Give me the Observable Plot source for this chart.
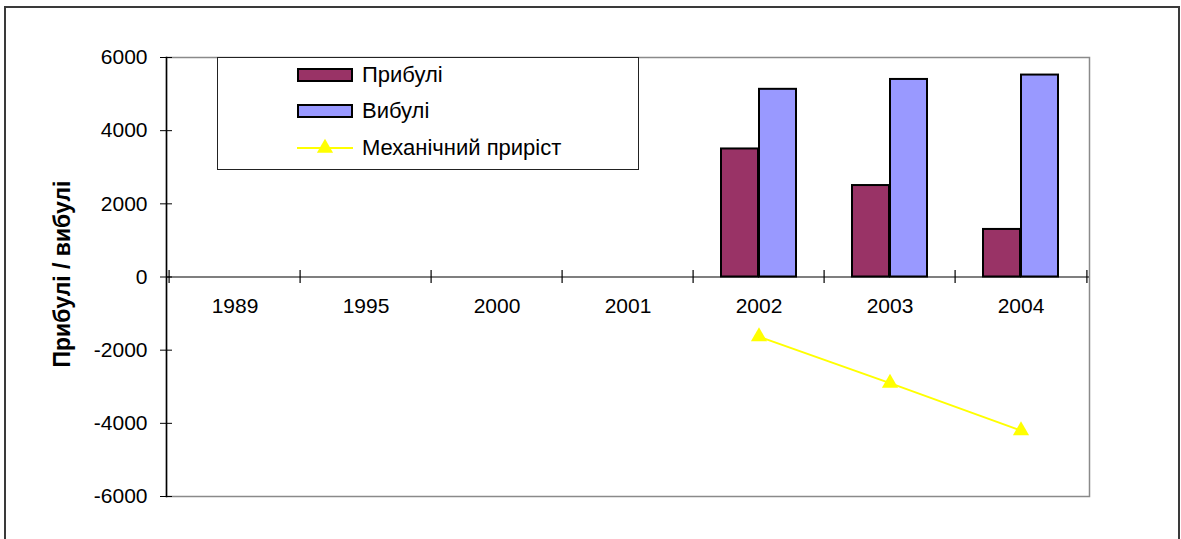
<!DOCTYPE html>
<html>
<head>
<meta charset="utf-8">
<script src="https://cdn.jsdelivr.net/npm/d3@7"></script>
<script src="https://cdn.jsdelivr.net/npm/@observablehq/plot@0.6"></script>
<style>
  html, body { margin: 0; padding: 0; background: #fff; }
  #wrap { position: relative; width: 1181px; height: 539px; overflow: hidden; font-family: "Liberation Sans", Arial, sans-serif; }
  #chart { position: absolute; left: 0; top: 0; }
  #outer { position: absolute; left: 4px; top: 6px; width: 1172px; height: 600px; border: 2px solid #3a3a3a; border-bottom: none; pointer-events: none; }
  #legend { position: absolute; left: 217px; top: 57px; width: 420px; height: 111px; border: 1px solid #222; background: #fff; }
  .item { position: absolute; left: 79px; height: 24px; display: flex; align-items: center; font-size: 22px; color: #000; }
  .sw { width: 52px; height: 10px; border: 2px solid #000; margin-right: 9px; }
  .ln { width: 56px; height: 24px; margin-right: 9px; }
</style>
</head>
<body>
<div id="wrap">
  <div id="chart"></div>
  <div id="legend"></div>
  <div id="outer"></div>
</div>
<script>
const years = ["1989", "1995", "2000", "2001", "2002", "2003", "2004"];
const prybuli = [null, null, null, null, 3500, 2500, 1300];
const vybuli = [null, null, null, null, 5130, 5400, 5520];
const mekhPryrist = [null, null, null, null, -1630, -2900, -4200];
const yTicks = [-6000, -4000, -2000, 0, 2000, 4000, 6000];
const seriesNames = ["Прибулі", "Вибулі", "Механічний приріст"];
const seriesColors = ["#993366", "#9999FF", "#FFFF00"];
const yLabel = "Прибулі / вибулі";

const rows = (vals) => years.map((y, i) => ({year: y, value: vals[i]})).filter(d => d.value != null);
const pData = rows(prybuli), vData = rows(vybuli), mData = rows(mekhPryrist);

const chart = Plot.plot({
  width: 1181,
  height: 539,
  marginLeft: 166,
  marginRight: 92,
  marginTop: 57,
  marginBottom: 43,
  style: {fontFamily: "'Liberation Sans', Arial, sans-serif", fontSize: "21px", background: "transparent", color: "#000", overflow: "visible"},
  x: {domain: years, padding: 0, axis: null},
  y: {domain: [-6000, 6000], axis: null},
  marks: [
    Plot.frame({stroke: "#8a8a8a", strokeWidth: 1.5}),
    Plot.barY(pData, {x: "year", y: "value", fill: seriesColors[0], stroke: "#000", strokeWidth: 2, insetLeft: 28, insetRight: 66}),
    Plot.barY(vData, {x: "year", y: "value", fill: seriesColors[1], stroke: "#000", strokeWidth: 2, insetLeft: 66, insetRight: 28}),
    Plot.ruleY([0], {stroke: "#000", strokeWidth: 1.2}),
    Plot.ruleX(years, {x: d => d, y1: -178, y2: 178, dx: -65.9, stroke: "#000", strokeWidth: 1.2}),
    Plot.ruleX([years[years.length - 1]], {x: d => d, y1: -178, y2: 178, dx: 65.9, stroke: "#000", strokeWidth: 1.2}),
    Plot.line(mData, {x: "year", y: "value", stroke: seriesColors[2], strokeWidth: 2}),
    Plot.dot(mData, {x: "year", y: "value", symbol: "triangle", fill: seriesColors[2], stroke: "none", r: 6}),
    Plot.axisY({ticks: yTicks, tickSize: 12, dx: 6, tickFormat: () => "", stroke: "#000", label: null}),
    Plot.axisY({ticks: yTicks, tickSize: 0, tickPadding: 19, tickFormat: d => String(d), fontSize: 21, label: null}),
    Plot.frame({anchor: "left", stroke: "#000", strokeWidth: 1.5}),
    Plot.text(years, {x: d => d, y: () => 0, dy: 29, text: d => d, fontSize: 21}),
    Plot.text([yLabel], {frameAnchor: "left", textAnchor: "middle", dx: -104, dy: -3, rotate: -90, text: d => d, fontWeight: "bold", fontSize: 23})
  ]
});
document.getElementById("chart").appendChild(chart);

// legend
const legend = document.getElementById("legend");
const tops = [5, 41, 78];
seriesNames.forEach((name, i) => {
  const item = document.createElement("div");
  item.className = "item";
  item.style.top = tops[i] + "px";
  if (i < 2) {
    const sw = document.createElement("div");
    sw.className = "sw";
    sw.style.background = seriesColors[i];
    item.appendChild(sw);
  } else {
    const ns = "http://www.w3.org/2000/svg";
    const svg = document.createElementNS(ns, "svg");
    svg.setAttribute("class", "ln");
    svg.setAttribute("width", 56); svg.setAttribute("height", 24);
    const l = document.createElementNS(ns, "line");
    l.setAttribute("x1", 0); l.setAttribute("x2", 56); l.setAttribute("y1", 12); l.setAttribute("y2", 12);
    l.setAttribute("stroke", seriesColors[2]); l.setAttribute("stroke-width", 2);
    const t = document.createElementNS(ns, "path");
    t.setAttribute("d", d3.symbol(d3.symbolTriangle, 6 * 6 * Math.PI)());
    t.setAttribute("transform", "translate(28,12)");
    t.setAttribute("fill", seriesColors[2]);
    svg.appendChild(l); svg.appendChild(t);
    item.appendChild(svg);
  }
  const tx = document.createElement("span");
  tx.textContent = name;
  item.appendChild(tx);
  legend.appendChild(item);
});
</script>
</body>
</html>
